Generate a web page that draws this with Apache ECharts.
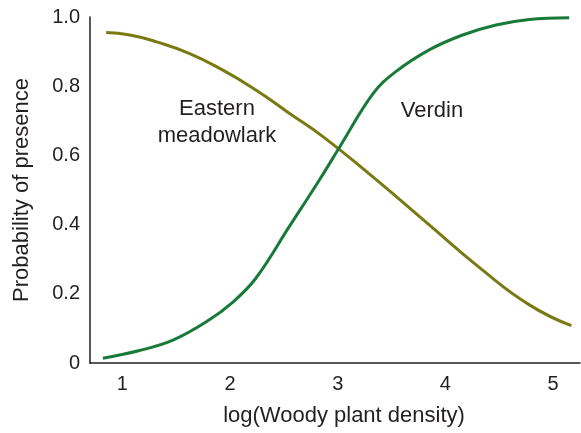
<!DOCTYPE html>
<html>
<head>
<meta charset="utf-8">
<script src="https://cdn.jsdelivr.net/npm/echarts@6/dist/echarts.min.js"></script>
<style>
  html, body { margin: 0; padding: 0; background: #fff; }
  #chart { width: 581px; height: 433px; }
</style>
</head>
<body>
<div id="chart"></div>
<script>
// values
const xTicks = [1, 2, 3, 4, 5];
const yTicks = [0, 0.2, 0.4, 0.6, 0.8, 1.0];

const meadowlarkX = [0.85, 1.07, 1.31, 1.62, 1.93, 2.24, 2.55, 2.86, 3.36, 3.85, 4.32, 4.78, 5.17];
const meadowlarkY = [0.955, 0.948, 0.929, 0.895, 0.847, 0.789, 0.722, 0.655, 0.529, 0.399, 0.275, 0.168, 0.108];

const verdinX = [0.82, 1.16, 1.47, 1.78, 2.03, 2.24, 2.55, 2.83, 3.02, 3.33, 3.54, 3.85, 4.16, 4.47, 4.78, 5.15];
const verdinY = [0.014, 0.036, 0.066, 0.119, 0.177, 0.245, 0.394, 0.529, 0.625, 0.779, 0.842, 0.905, 0.948, 0.977, 0.993, 0.998];

const pairs = (xs, ys) => xs.map((x, i) => [x, ys[i]]);

const font = "Liberation Sans, Arial, sans-serif";
const textColor = "#231f20";

let myChart = echarts.init(document.getElementById("chart"));
myChart.setOption({
  animation: false,
  grid: { left: 90, right: 1, top: 17, bottom: 70, containLabel: false },
  xAxis: {
    type: "value",
    min: 0.7,
    max: 5.25,
    axisLine: { onZero: false, lineStyle: { color: "#231f20", width: 1.5 } },
    axisTick: { show: false },
    splitLine: { show: false },
    axisLabel: {
      customValues: xTicks,
      margin: 11,
      fontFamily: font,
      fontSize: 20,
      color: textColor
    }
  },
  yAxis: {
    type: "value",
    min: 0,
    max: 1,
    name: "Probability of presence",
    nameLocation: "middle",
    nameGap: 57,
    nameTextStyle: { fontFamily: font, fontSize: 22, color: textColor },
    axisLine: { show: true, lineStyle: { color: "#231f20", width: 1.5 } },
    axisTick: { show: false },
    splitLine: { show: false },
    axisLabel: {
      customValues: yTicks,
      margin: 10,
      fontFamily: font,
      fontSize: 20,
      color: textColor,
      formatter: v => (v === 0 ? "0" : v.toFixed(1))
    }
  },
  graphic: [
    {
      type: "text",
      x: 344,
      y: 416,
      style: {
        text: "log(Woody plant density)",
        font: "22px " + font,
        fill: textColor,
        align: "center",
        verticalAlign: "middle"
      }
    },
    {
      type: "text",
      x: 217,
      y: 122,
      style: {
        text: "Eastern\nmeadowlark",
        font: "22px " + font,
        lineHeight: 27,
        fill: textColor,
        align: "center",
        verticalAlign: "middle"
      }
    },
    {
      type: "text",
      x: 432,
      y: 111,
      style: {
        text: "Verdin",
        font: "22px " + font,
        fill: textColor,
        align: "center",
        verticalAlign: "middle"
      }
    }
  ],
  series: [
    {
      name: "Eastern meadowlark",
      type: "line",
      data: pairs(meadowlarkX, meadowlarkY),
      smooth: 0.5,
      showSymbol: false,
      lineStyle: { color: "#7a7a12", width: 3 }
    },
    {
      name: "Verdin",
      type: "line",
      data: pairs(verdinX, verdinY),
      smooth: 0.4,
      showSymbol: false,
      lineStyle: { color: "#187a38", width: 3 }
    }
  ]
});
</script>
</body>
</html>
